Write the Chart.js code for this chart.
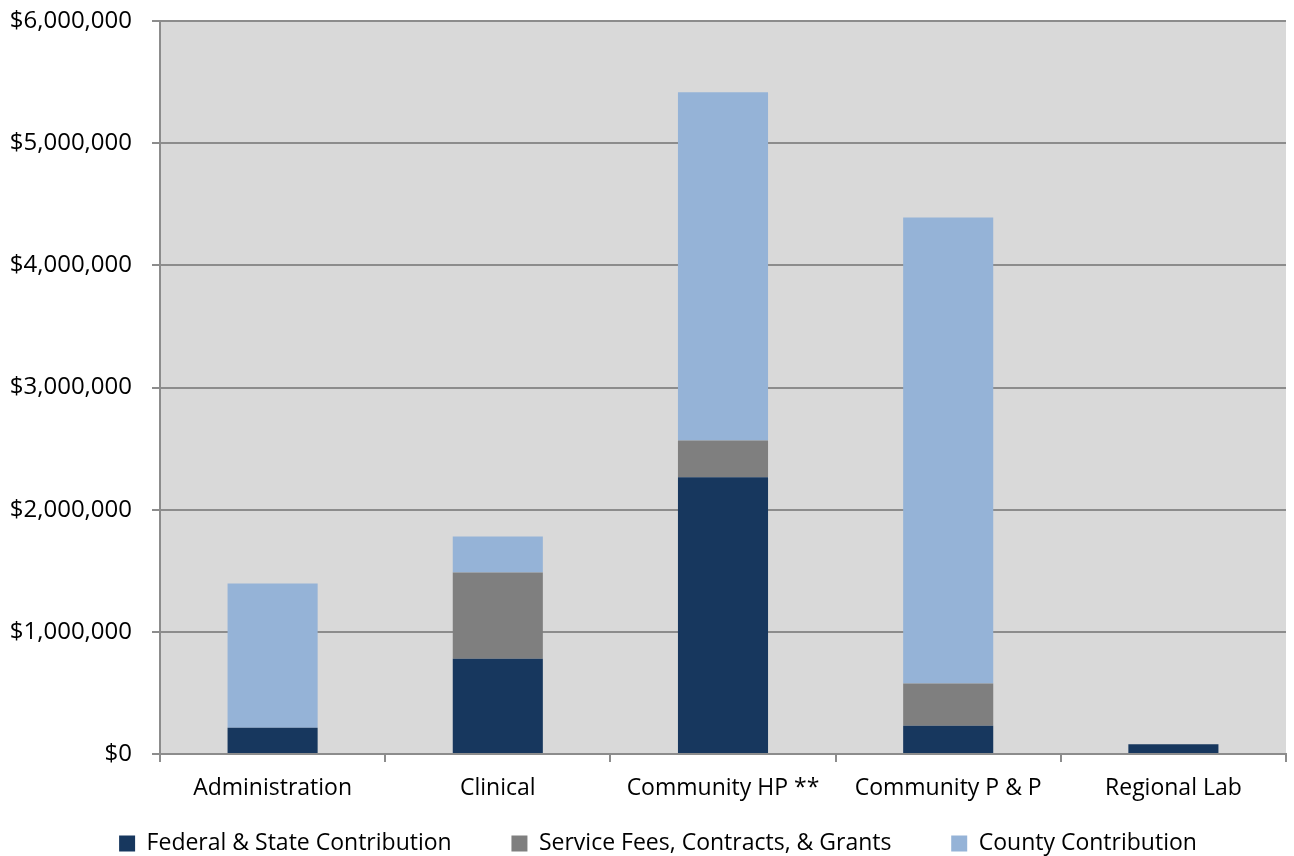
<!DOCTYPE html>
<html>
<head>
<meta charset="utf-8">
<script src="https://cdn.jsdelivr.net/npm/chart.js@4"></script>
<style>
  html, body { margin:0; padding:0; background:#fff; }
  #wrap { width:1294px; height:856px; }
</style>
</head>
<body>
<div id="wrap"><canvas id="chartFunding"></canvas></div>
<script>
const categories = ['Administration', 'Clinical', 'Community HP **', 'Community P & P', 'Regional Lab'];
const federalState = [215000, 780000, 2265000, 232000, 80000];
const serviceFees  = [0, 706000, 302000, 345000, 0];
const county       = [1180000, 295000, 2850000, 3814000, 0];
const yTicks = [0, 1000000, 2000000, 3000000, 4000000, 5000000, 6000000];

const FONT = "'Open Sans', 'Noto Sans', sans-serif";

// grey plot background behind the bars
const plotBg = {
  id:'plotBg',
  beforeDraw(chart){
    const {ctx, chartArea:a} = chart;
    ctx.save();
    ctx.fillStyle = '#d9d9d9';
    ctx.fillRect(a.left, a.top, a.right - a.left, a.bottom - a.top);
    ctx.restore();
  }
};

// nudge the legend row a little lower and to the right
const legendNudge = {
  id:'legendNudge',
  afterLayout(chart){
    const lg = chart.legend;
    if(!lg) return;
    lg.top += 9; lg.bottom += 9;
    lg.left += 12; lg.right += 12;
  }
};

const money = v => '$' + v.toLocaleString('en-US');

new Chart(document.getElementById('chartFunding'), {
  type:'bar',
  data:{
    labels: categories,
    datasets:[
      { label:'Federal & State Contribution', data: federalState, backgroundColor:'#17375e' },
      { label:'Service Fees, Contracts, & Grants', data: serviceFees, backgroundColor:'#7f7f7f' },
      { label:'County Contribution', data: county, backgroundColor:'#95b3d7' }
    ]
  },
  options:{
    responsive:true,
    maintainAspectRatio:false,
    animation:false,
    layout:{ padding:{ left:6, right:8, top:21, bottom:0 } },
    datasets:{ bar:{ categoryPercentage:1, barPercentage:0.4, borderWidth:0 } },
    plugins:{
      tooltip:{ enabled:false },
      legend:{
        position:'bottom',
        labels:{
          color:'#000',
          font:{ family:FONT, size:23 },
          boxWidth:16, boxHeight:16,
          padding:0,
          // wide gaps between the three entries
          generateLabels(chart){
            const items = Chart.defaults.plugins.legend.labels.generateLabels(chart);
            items.forEach((it, i) => { if (i < items.length - 1) it.text += '\u00a0'.repeat(10); });
            return items;
          }
        }
      }
    },
    scales:{
      x:{
        stacked:true,
        afterFit(axis){ axis.height = 69; },
        grid:{ display:true, drawOnChartArea:false, drawTicks:true, tickLength:8, color:'#8c8c8c', lineWidth:2, offset:true },
        border:{ color:'#8c8c8c', width:2 },
        ticks:{ color:'#000', font:{ family:FONT, size:23 }, padding:13, maxRotation:0 }
      },
      y:{
        stacked:true,
        min:0, max:6000000,
        afterBuildTicks(axis){ axis.ticks = yTicks.map(v => ({ value:v })); },
        afterFit(axis){ axis.width = 154; axis.paddingTop = 0; axis.paddingBottom = 0; },
        grid:{ color:'#8c8c8c', lineWidth:2, tickLength:8 },
        border:{ color:'#8c8c8c', width:2 },
        ticks:{ color:'#000', font:{ family:FONT, size:24 }, padding:20, callback:v => money(v) }
      }
    }
  },
  plugins:[plotBg, legendNudge]
});
</script>
</body>
</html>
